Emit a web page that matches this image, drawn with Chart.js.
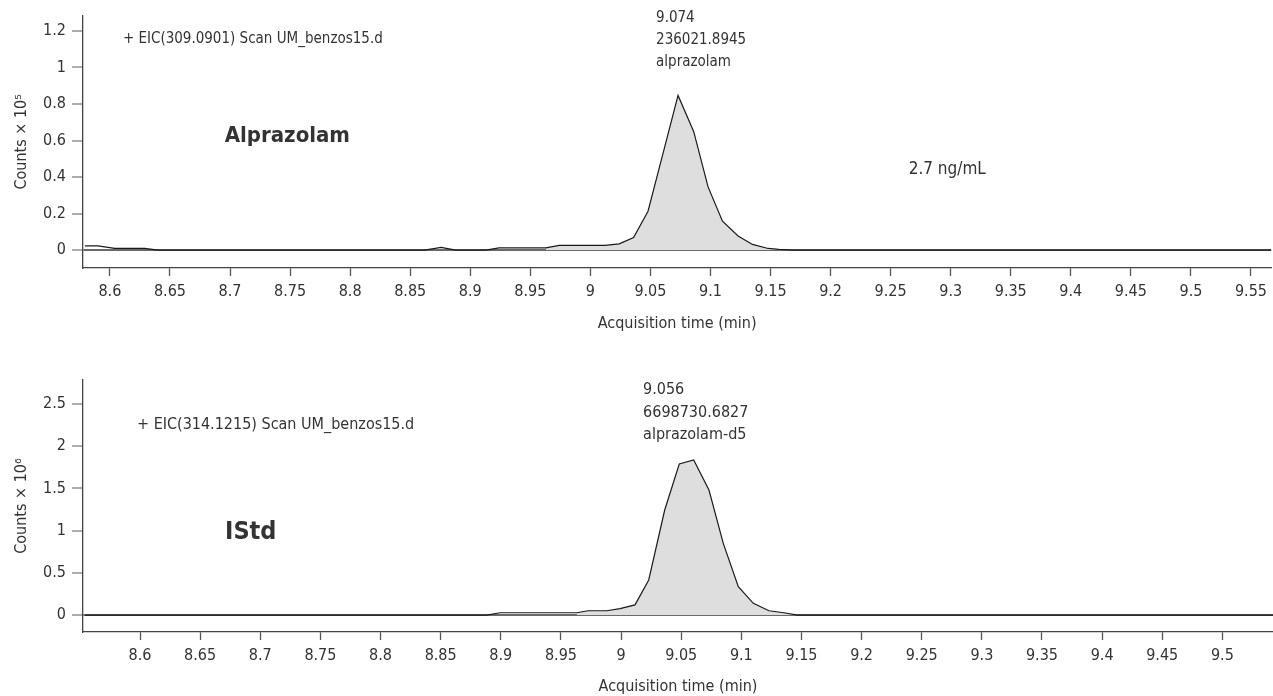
<!DOCTYPE html>
<html>
<head>
<meta charset="utf-8">
<script src="https://cdn.jsdelivr.net/npm/chart.js@4/dist/chart.umd.min.js"></script>
<style>
  body { margin: 0; background: #fff; width: 1273px; height: 696px; overflow: hidden; }
  #top { position: absolute; left: 0; top: 0; }
  #bottom { position: absolute; left: 0; top: 340px; }
</style>
</head>
<body>
<canvas id="top" width="1273" height="340"></canvas>
<canvas id="bottom" width="1273" height="356"></canvas>
<script>
// alprazolam trace, counts x 10^5
const topTime = [8.5792, 8.590, 8.604, 8.629, 8.640, 8.862, 8.8757, 8.888, 8.913, 8.924, 8.963, 8.974, 9.012, 9.024, 9.036, 9.048, 9.0605, 9.073, 9.086, 9.098, 9.110, 9.123, 9.135, 9.148, 9.157, 9.169, 9.567];
const topCounts = [0.023, 0.023, 0.009, 0.009, 0, 0, 0.015, 0, 0, 0.012, 0.012, 0.026, 0.026, 0.034, 0.069, 0.213, 0.53, 0.847, 0.65, 0.346, 0.158, 0.077, 0.031, 0.009, 0.004, 0, 0];
const topPeak = [8.96, 9.158]; // integrated region

// ISTD trace (alprazolam-d5), counts x 10^6
const botTime = [8.5543, 8.8883, 8.8994, 8.9631, 8.9725, 8.9881, 8.9991, 9.0116, 9.0230, 9.0363, 9.0484, 9.0604, 9.0731, 9.0850, 9.0975, 9.1100, 9.1230, 9.1355, 9.1466, 9.5421];
const botCounts = [0, 0, 0.027, 0.027, 0.051, 0.051, 0.075, 0.12, 0.415, 1.244, 1.789, 1.836, 1.481, 0.849, 0.335, 0.139, 0.051, 0.027, 0, 0];
const botPeak = [8.962, 9.147];

const topXTicks = [8.6, 8.65, 8.7, 8.75, 8.8, 8.85, 8.9, 8.95, 9, 9.05, 9.1, 9.15, 9.2, 9.25, 9.3, 9.35, 9.4, 9.45, 9.5, 9.55];
const botXTicks = [8.6, 8.65, 8.7, 8.75, 8.8, 8.85, 8.9, 8.95, 9, 9.05, 9.1, 9.15, 9.2, 9.25, 9.3, 9.35, 9.4, 9.45, 9.5];
const topYTicks = [0, 0.2, 0.4, 0.6, 0.8, 1, 1.2];
const botYTicks = [0, 0.5, 1, 1.5, 2, 2.5];

const FONT = "'Liberation Sans Narrow', 'DejaVu Sans Condensed', 'Roboto Condensed', 'Liberation Sans', sans-serif";
const TEXT = '#333';

// draws the free text on the plot, positions given in data units
const notesPlugin = {
  id: 'notes',
  afterDraw(chart, args, opts) {
    const ctx = chart.ctx;
    const xs = chart.scales.x, ys = chart.scales.y;
    ctx.save();
    ctx.fillStyle = TEXT;
    ctx.textAlign = 'left';
    ctx.textBaseline = 'middle';
    (opts.items || []).forEach(n => {
      ctx.font = (n.bold ? 'bold ' : '') + n.size + 'px ' + FONT;
      const px = xs.getPixelForValue(n.x);
      const py = ys.getPixelForValue(n.y);
      const lines = Array.isArray(n.text) ? n.text : [n.text];
      lines.forEach((t, i) => ctx.fillText(t, px, py + i * (n.gap || 0)));
    });
    ctx.restore();
  }
};

function makeChart(el, cfg) {
  const line = cfg.time.map((t, i) => ({ x: t, y: cfg.counts[i] }));
  const area = line.filter(p => p.x >= cfg.peak[0] && p.x <= cfg.peak[1]);
  return new Chart(el, {
    type: 'line',
    data: {
      datasets: [
        {
          data: line,
          borderColor: '#1a1a1a',
          borderWidth: 1.2,
          pointRadius: 0,
          tension: 0,
          fill: false,
        },
        {
          data: area,
          borderWidth: 0,
          borderColor: 'transparent',
          backgroundColor: '#dedede',
          pointRadius: 0,
          tension: 0,
          fill: 'origin',
        }
      ]
    },
    options: {
      responsive: false,
      animation: false,
      layout: { padding: { top: cfg.padTop, left: 0, right: 0, bottom: 0 } },
      plugins: {
        legend: { display: false },
        tooltip: { enabled: false },
        notes: { items: cfg.notes }
      },
      scales: {
        x: {
          type: 'linear',
          min: cfg.xMin,
          max: cfg.xMax,
          afterBuildTicks: s => { s.ticks = cfg.xTicks.map(v => ({ value: v })); },
          afterFit: s => { s.height = cfg.xHeight; },
          grid: { display: true, drawOnChartArea: false, drawTicks: true, tickLength: 8, tickColor: '#555', tickWidth: 1.3 },
          border: { color: '#444', width: 1.3 },
          ticks: {
            color: TEXT, padding: 6, maxRotation: 0, autoSkip: false,
            font: { family: FONT, size: cfg.tickSize },
            callback: v => String(v)
          },
          title: {
            display: true, text: 'Acquisition time (min)', color: TEXT,
            font: { family: FONT, size: 16 },
            padding: { top: 0, bottom: cfg.titlePad }
          }
        },
        y: {
          z: 1,
          min: cfg.yMin,
          max: cfg.yMax,
          afterBuildTicks: s => { s.ticks = cfg.yTicks.map(v => ({ value: v })); },
          afterFit: s => { s.width = 83; },
          grid: {
            color: c => (c.tick && c.tick.value === 0) ? '#6a6a6a' : 'transparent',
            lineWidth: c => (c.tick && c.tick.value === 0) ? 2 : 0,
            tickColor: '#777', tickLength: 11, tickWidth: 1.2
          },
          border: { color: '#444', width: 1.3 },
          ticks: {
            color: TEXT, padding: 6,
            font: { family: FONT, size: 16 },
            callback: v => String(v)
          },
          title: {
            display: true, text: cfg.yTitle, color: TEXT,
            font: { family: FONT, size: 16 },
            padding: { top: 12, bottom: 0 }
          }
        }
      }
    },
    plugins: [notesPlugin]
  });
}

makeChart(document.getElementById('top'), {
  time: topTime, counts: topCounts, peak: topPeak,
  xMin: 8.5776, xMax: 9.5668, yMin: -0.098, yMax: 1.284,
  xTicks: topXTicks, yTicks: topYTicks,
  padTop: 15, xHeight: 72, titlePad: 7, tickSize: 16,
  yTitle: 'Counts × 10⁵',
  notes: [
    { text: '+ EIC(309.0901) Scan UM_benzos15.d', x: 8.6108, y: 1.153, size: 15 },
    { text: 'Alprazolam', x: 8.6956, y: 0.623, size: 22, bold: true },
    { text: '2.7 ng/mL', x: 9.265, y: 0.443, size: 17 },
    { text: ['9.074', '236021.8945', 'alprazolam'], x: 9.0547, y: 1.268, size: 15, gap: 21.8 }
  ]
});

makeChart(document.getElementById('bottom'), {
  time: botTime, counts: botCounts, peak: botPeak,
  xMin: 8.5526, xMax: 9.5421, yMin: -0.201, yMax: 2.784,
  xTicks: botXTicks, yTicks: botYTicks,
  padTop: 40, xHeight: 64, titlePad: 0, tickSize: 16,
  yTitle: 'Counts × 10⁶',
  notes: [
    { text: '+ EIC(314.1215) Scan UM_benzos15.d', x: 8.5975, y: 2.251, size: 16 },
    { text: 'IStd', x: 8.6707, y: 0.972, size: 25, bold: true },
    { text: ['9.056', '6698730.6827', 'alprazolam-d5'], x: 9.0183, y: 2.666, size: 16, gap: 22.5 }
  ]
});
</script>
</body>
</html>
